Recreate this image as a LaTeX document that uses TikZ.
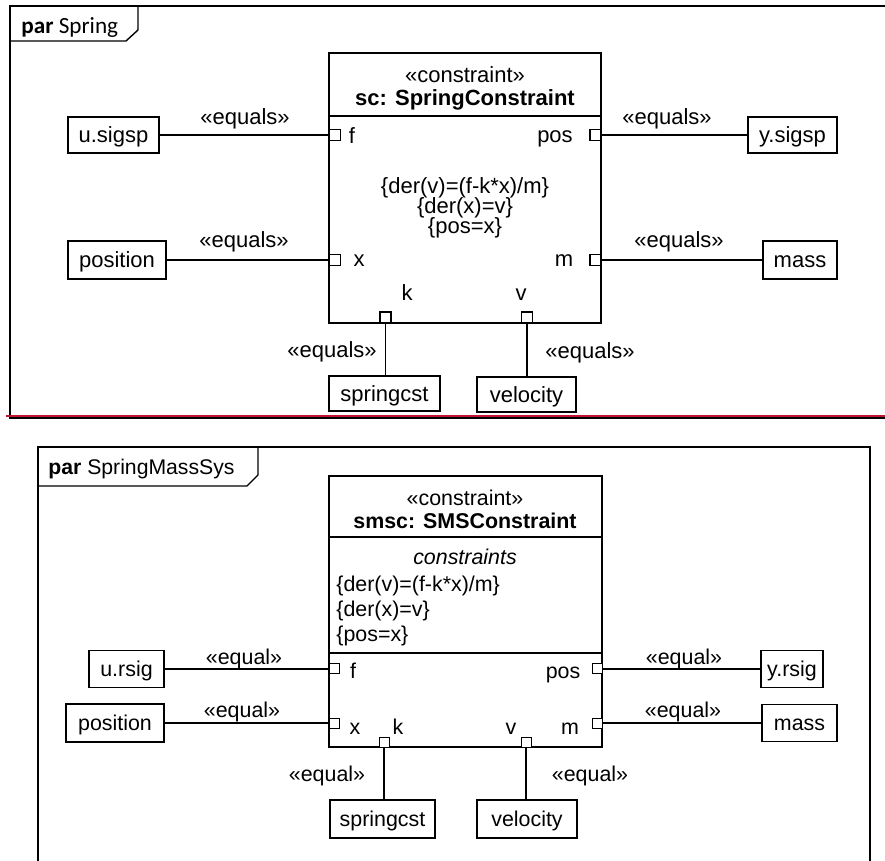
\documentclass[tikz,border=0pt]{standalone}
\usepackage{fontspec}
\setmainfont{Liberation Sans}
\newfontfamily\calibfont{Carlito}
\newcommand\fontTop{\fontsize{11}{13}\selectfont}
\newcommand\fontBot{\fontsize{10.7}{12.5}\selectfont}
\definecolor{sepred}{RGB}{192,20,50}
\tikzset{
  frame/.style={line width=0.7pt, draw=black},
  boxline/.style={line width=0.65pt, draw=black},
  valT/.style={draw, line width=0.65pt, inner sep=0pt, font=\fontTop, text height=7.9pt, text depth=0pt},
  valB/.style={draw, line width=0.55pt, inner sep=0pt, font=\fontBot, text height=7.7pt, text depth=0pt},
  prtT/.style={draw, fill=white, line width=0.6pt, minimum size=5.5pt, inner sep=0pt},
  prtB/.style={draw, fill=white, line width=0.5pt, minimum size=5pt, inner sep=0pt},
  lblT/.style={inner sep=0pt, font=\fontTop, text height=7.9pt, text depth=0pt},
  lblB/.style={inner sep=0pt, font=\fontBot, text height=7.7pt, text depth=0pt},
  conT/.style={line width=0.65pt},
  conB/.style={line width=0.55pt},
}
\begin{document}
\begin{tikzpicture}[x=0.5pt,y=-0.5pt]
\useasboundingbox[fill=white] (0,0) rectangle (885,861);

% ===================== TOP DIAGRAM =====================
\draw[frame] (885,6) -- (10,6) -- (10,418) -- (885,418);
\draw[line width=1.35pt, sepred] (6,416) -- (885,416);
\draw[frame] (10,41) -- (126,41) -- (138,30) -- (138,6);
\node[anchor=west, inner sep=0pt, text height=7.5pt, text depth=0pt, font=\calibfont\fontsize{11.6}{13}\selectfont] (tabT) at (21,26) {\textbf{par} Spring};

% constraint block
\node[draw, line width=0.65pt, minimum width=136pt, minimum height=135pt, inner sep=0pt] (blkT) at (465,188) {};
\draw[boxline] (329,116) -- (601,116);
\node[lblT] (stT) at (465,75) {«constraint»};
\node[lblT, font=\fontTop\bfseries] (nmT) at (465,98) {sc: SpringConstraint};
\node[lblT] (c1T) at (465,186) {\{der(v)=(f-k*x)/m\}};
\node[lblT] (c2T) at (465,206) {\{der(x)=v\}};
\node[lblT] (c3T) at (465,226) {\{pos=x\}};

% ports
\node[prtT] (pfT) at (335,135) {};
\node[prtT] (pposT) at (595.5,135) {};
\node[prtT] (pxT) at (335,260) {};
\node[prtT] (pmT) at (595.5,260) {};
\node[prtT] (pkT) at (385.5,317.5) {};
\node[prtT] (pvT) at (527,317.5) {};
\node[lblT] (lfT) at (352,135.5) {f};
\node[lblT] (lposT) at (555,135) {pos};
\node[lblT] (lxT) at (359,259) {x};
\node[lblT] (lmT) at (564,259) {m};
\node[lblT] (lkT) at (407,293) {k};
\node[lblT] (lvT) at (521,293) {v};

% value boxes
\node[valT, minimum width=45.5pt, minimum height=18pt] (usT) at (113.5,135) {u.sigsp};
\node[valT, minimum width=44.5pt, minimum height=18pt] (ysT) at (792.5,135) {y.sigsp};
\node[valT, minimum width=49pt, minimum height=19pt] (posT) at (117,260) {position};
\node[valT, minimum width=37pt, minimum height=19pt] (massT) at (800,260) {mass};
\node[valT, minimum width=55.5pt, minimum height=17.5pt] (spT) at (384.5,393.5) {springcst};
\node[valT, minimum width=49.5pt, minimum height=17.5pt] (velT) at (526.5,394.5) {velocity};

% connectors
\draw[conT] (usT.east) -- (usT.east -| pfT.west);
\draw[conT] (pposT.east) -- (pposT.east -| ysT.west);
\draw[conT] (posT.east) -- (posT.east -| pxT.west);
\draw[conT] (pmT.east) -- (pmT.east -| massT.west);
\draw[conT] (pkT.south) -- (pkT.south |- spT.north);
\draw[conT] (pvT.south) -- (pvT.south |- velT.north);

\node[lblT] (e1T) at (245,117) {«equals»};
\node[lblT] (e2T) at (667,117) {«equals»};
\node[lblT] (e3T) at (244,240) {«equals»};
\node[lblT] (e4T) at (679,240) {«equals»};
\node[lblT] (e5T) at (332,350) {«equals»};
\node[lblT] (e6T) at (590,351) {«equals»};

% ===================== BOTTOM DIAGRAM =====================
\draw[frame] (38,861) -- (38,447) -- (870,447) -- (870,861);
\draw[frame] (38,486) -- (247,486) -- (258,475) -- (258,447);
\node[anchor=west, inner sep=0pt, text height=7.6pt, text depth=0pt, font=\fontsize{10.6}{12.5}\selectfont] (tabB) at (48,467) {\textbf{par} SpringMassSys};

\node[draw, line width=0.6pt, minimum width=136.5pt, minimum height=135.5pt, inner sep=0pt] (blkB) at (465.5,611.5) {};
\draw[line width=0.6pt] (329,537) -- (602,537);
\draw[line width=0.6pt] (329,653) -- (602,653);
\node[lblB] (stB) at (465,498) {«constraint»};
\node[lblB, font=\fontBot\bfseries] (nmB) at (465,521) {smsc: SMSConstraint};
\node[lblB, font=\fontBot\itshape] (hdB) at (465,557) {constraints};
\node[lblB, anchor=west] (c1B) at (336,584) {\{der(v)=(f-k*x)/m\}};
\node[lblB, anchor=west] (c2B) at (336,609) {\{der(x)=v\}};
\node[lblB, anchor=west] (c3B) at (336,634) {\{pos=x\}};

\node[prtB] (pfB) at (334,669) {};
\node[prtB] (pposB) at (597,669) {};
\node[prtB] (pxB) at (334,723) {};
\node[prtB] (pmB) at (597,723) {};
\node[prtB] (pkB) at (384,742) {};
\node[prtB] (pvB) at (526,742) {};
\node[lblB] (lfB) at (353,671) {f};
\node[lblB] (lposB) at (563,671) {pos};
\node[lblB] (lxB) at (355,727) {x};
\node[lblB] (lkB) at (398,727) {k};
\node[lblB] (lvB) at (511,727) {v};
\node[lblB] (lmB) at (570,727) {m};

\node[valB, minimum width=37.5pt, minimum height=18.5pt] (usB) at (126.5,669) {u.rsig};
\node[valB, minimum width=31pt, minimum height=18.5pt] (ysB) at (792,669) {y.rsig};
\node[valB, minimum width=49pt, minimum height=19pt] (posB) at (115,723) {position};
\node[valB, minimum width=37.5pt, minimum height=18.5pt] (massB) at (799.5,723) {mass};
\node[valB, minimum width=52.5pt, minimum height=19pt] (spB) at (382.5,819) {springcst};
\node[valB, minimum width=50pt, minimum height=19pt] (velB) at (527,819) {velocity};

\draw[conB] (usB.east) -- (usB.east -| pfB.west);
\draw[conB] (pposB.east) -- (pposB.east -| ysB.west);
\draw[conB] (posB.east) -- (posB.east -| pxB.west);
\draw[conB] (pmB.east) -- (pmB.east -| massB.west);
\draw[conB] (pkB.south) -- (pkB.south |- spB.north);
\draw[conB] (pvB.south) -- (pvB.south |- velB.north);

\node[lblB] (e1B) at (244,657) {«equal»};
\node[lblB] (e2B) at (684,657) {«equal»};
\node[lblB] (e3B) at (242,710) {«equal»};
\node[lblB] (e4B) at (683,710) {«equal»};
\node[lblB] (e5B) at (327,774) {«equal»};
\node[lblB] (e6B) at (590,774) {«equal»};
\end{tikzpicture}
\end{document}
